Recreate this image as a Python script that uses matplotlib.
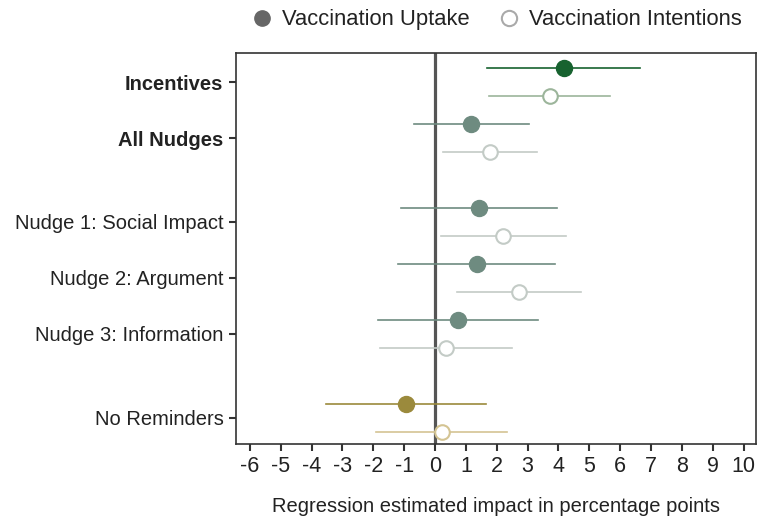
import matplotlib
matplotlib.use('Agg')
import matplotlib.pyplot as plt
from matplotlib.lines import Line2D

plt.rcParams["font.family"] = ["Liberation Sans", "DejaVu Sans"]

# data
groups = ['Incentives', 'All Nudges', 'Nudge 1: Social Impact', 'Nudge 2: Argument',
          'Nudge 3: Information', 'No Reminders']
group_pos = [0, 1, 2.5, 3.5, 4.5, 6.0]
bold_groups = ['Incentives', 'All Nudges']

uptake_est = [4.17, 1.18, 1.42, 1.36, 0.74, -0.95]
uptake_lo = [1.70, -0.68, -1.10, -1.20, -1.84, -3.53]
uptake_hi = [6.64, 3.04, 3.95, 3.88, 3.33, 1.65]

intent_est = [3.72, 1.78, 2.20, 2.72, 0.36, 0.22]
intent_lo = [1.75, 0.26, 0.19, 0.71, -1.78, -1.91]
intent_hi = [5.68, 3.29, 4.24, 4.72, 2.49, 2.34]

uptake_colors = ['#17622f', '#6e8b80', '#6e8b80', '#6e8b80', '#6e8b80', '#9b8a3c']
intent_colors = ['#9cb59b', '#c3cbc6', '#c3cbc6', '#c3cbc6', '#c3cbc6', '#d4c493']

xticks = list(range(-6, 11))

fig = plt.figure(figsize=(7.61, 5.18), dpi=100)
ax = fig.add_axes([0.310, 0.1429, 0.6834, 0.7548])

ax.axvline(0, color='#555555', linewidth=2.3, zorder=1)

off = 0.25
for i, pos in enumerate(group_pos):
    y = pos - off
    ax.plot([uptake_lo[i], uptake_hi[i]], [y, y], color=uptake_colors[i], linewidth=1.2, zorder=2)
    ax.plot(uptake_est[i], y, 'o', color=uptake_colors[i], markersize=11.5, zorder=3)
    y = pos + off
    ax.plot([intent_lo[i], intent_hi[i]], [y, y], color=intent_colors[i], linewidth=1.2, zorder=2)
    ax.plot(intent_est[i], y, 'o', markerfacecolor='white', markeredgecolor=intent_colors[i],
            markeredgewidth=1.5, markersize=10.5, zorder=3)

ax.set_xlim(-6.45, 10.4)
ax.set_ylim(6.47, -0.52)
ax.set_xticks(xticks)
ax.set_xticklabels([str(t) for t in xticks], fontsize=15.5, color='#222222')
ax.set_yticks(group_pos)
ax.set_yticklabels(groups, fontsize=14.5, color='#222222')
for lab in ax.get_yticklabels():
    if lab.get_text() in bold_groups:
        lab.set_fontweight('bold')
ax.tick_params(axis='both', direction='out', length=5, width=1.5, color='#333333', pad=4)
for sp in ax.spines.values():
    sp.set_color('#333333')
    sp.set_linewidth(1.2)

ax.set_xlabel('Regression estimated impact in percentage points', fontsize=14.5,
              color='#222222', labelpad=14)

handles = [
    Line2D([], [], marker='o', linestyle='none', color='#666666', markersize=11),
    Line2D([], [], marker='o', linestyle='none', markerfacecolor='white',
           markeredgecolor='#aaaaaa', markeredgewidth=1.5, markersize=11),
]
fig.legend(handles, ['Vaccination Uptake', 'Vaccination Intentions'], loc='center',
           bbox_to_anchor=(0.645, 0.962), ncol=2, frameon=False, fontsize=15.8,
           handletextpad=-0.1, columnspacing=0.8, labelcolor='#222222')

plt.savefig('out.png', dpi=100)
